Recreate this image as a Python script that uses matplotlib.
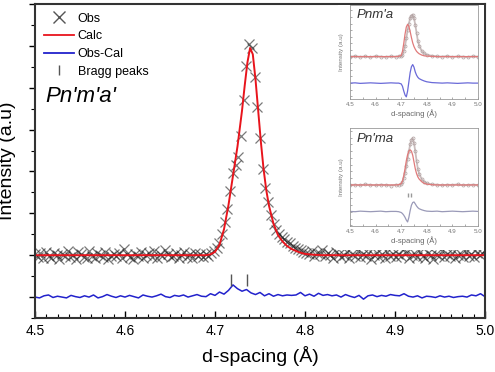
import numpy as np
import matplotlib
matplotlib.use("Agg")
import matplotlib.pyplot as plt
from matplotlib.lines import Line2D
from matplotlib.patches import Rectangle
from matplotlib.ticker import MultipleLocator, AutoMinorLocator, NullFormatter

plt.rcParams['font.family'] = ['Liberation Sans', 'DejaVu Sans']

# ---- main pattern (Pn'm'a') ----
# observed points, measured on an even d-spacing grid 4.5 .. 5.0
obs_base_left = [1.02, 0.96, 1.05, 0.93, 1.08, 0.99, 0.94, 1.06, 1.01, 0.92, 1.04, 0.97, 1.09, 0.95, 1.00, 0.91, 1.07, 1.03, 0.96, 0.94,
                 1.10, 0.98, 0.93, 1.05, 1.01, 0.95, 1.08, 0.92, 0.99, 1.04, 0.97, 1.06, 0.94, 1.15, 1.02, 0.95, 0.91, 1.03, 0.98, 1.07,
                 0.93, 1.00, 1.05, 0.96, 1.09, 0.94, 1.02, 0.97, 1.12, 1.04, 0.95, 0.99, 1.06, 0.93, 1.01, 1.08, 0.96, 1.03, 0.94, 1.05,
                 0.98, 1.02, 0.95, 1.04, 0.99, 1.06]
obs_peak = [1.10, 1.18, 1.28, 1.50, 1.80, 2.10, 2.53, 2.97, 3.15, 3.35, 3.85, 4.70, 5.52, 6.05, 5.95, 5.25, 4.55, 3.80,
            3.05, 2.60, 2.28, 1.96, 1.75, 1.60, 1.50, 1.43, 1.38, 1.32, 1.28, 1.22, 1.18, 1.16, 1.12, 1.08, 1.05]
obs_base_right = [1.04, 1.09, 0.98, 1.06, 1.02, 1.12, 0.97, 1.05, 1.01, 0.94, 1.08, 1.03, 0.96, 1.00, 1.07, 0.93, 1.04, 0.98, 1.10, 0.95,
                  1.02, 0.97, 1.06, 0.92, 1.01, 1.05, 0.96, 1.03, 0.94, 1.08, 0.99, 1.02, 0.95, 1.04, 0.97, 1.15, 1.06, 0.93, 1.00, 1.03,
                  0.96, 1.07, 0.98, 0.94, 1.05, 1.01, 0.92, 1.04, 0.97, 1.09, 0.95, 1.02, 0.99, 1.06, 0.93, 1.01, 1.04, 0.96, 1.08, 0.98,
                  1.03, 0.95, 1.06, 1.00, 1.05, 1.12]
obs_i = obs_base_left + obs_peak + obs_base_right
obs_d = np.linspace(4.5, 5.0, len(obs_i))

calc_d = [4.500, 4.690, 4.695, 4.700, 4.705, 4.710, 4.715, 4.720, 4.725, 4.730, 4.733, 4.736, 4.739, 4.742,
          4.745, 4.748, 4.751, 4.754, 4.757, 4.760, 4.765, 4.770, 4.775, 4.780, 4.785, 4.790, 4.795, 4.800,
          4.810, 4.820, 5.000]
calc_i = [1.00, 1.00, 1.02, 1.08, 1.25, 1.62, 2.20, 2.90, 3.60, 4.45, 5.05, 5.60, 5.95, 5.80,
          5.20, 4.45, 3.70, 3.05, 2.55, 2.18, 1.75, 1.48, 1.33, 1.22, 1.15, 1.10, 1.06, 1.03,
          1.01, 1.00, 1.00]

diff_i = [0.00, -0.02, 0.03, 0.05, -0.01, 0.02, 0.00, -0.02, 0.04, 0.01, -0.01, 0.03, 0.00, 0.05, -0.02, 0.01, 0.06, 0.02, -0.01, 0.03,
          0.00, 0.04, 0.01, -0.02, 0.05, 0.02, 0.00, 0.03, 0.07, 0.01, -0.01, 0.04, 0.02, 0.05, 0.00, 0.03, 0.06, 0.02, 0.01,
          0.08, 0.04, 0.12, 0.07, 0.16, 0.29, 0.20, 0.14, 0.18, 0.10, 0.06, 0.11, 0.03, 0.08, 0.02, 0.06, 0.03,
          0.05, 0.04, 0.05, 0.11, 0.03, 0.07, 0.02, 0.09, 0.04, 0.06, 0.03, 0.05, 0.00, 0.06, 0.02, -0.01, 0.04, -0.05, 0.03, 0.05,
          0.01, 0.04, 0.02, 0.06, 0.04, 0.03, 0.08, 0.02, 0.00, 0.03, -0.02, 0.02, 0.01, -0.01, 0.03, 0.00, 0.02, -0.01, 0.01, 0.02,
          0.00, 0.05, 0.03, 0.08, 0.01]
diff_d = np.linspace(4.5, 5.0, len(diff_i))

bragg_d = [4.718, 4.736]
bragg_y = [0.40, 0.40]

# ---- inset patterns ----
ins_d = [4.50, 4.52, 4.54, 4.56, 4.58, 4.60, 4.62, 4.64, 4.66, 4.68, 4.69, 4.70, 4.705, 4.71, 4.715, 4.72,
         4.725, 4.73, 4.735, 4.74, 4.745, 4.75, 4.755, 4.76, 4.765, 4.77, 4.78, 4.79, 4.80, 4.82, 4.84,
         4.86, 4.88, 4.90, 4.92, 4.94, 4.96, 4.98, 5.00]
# Pnm'a
pnma1_obs = [1.00, 1.02, 0.99, 1.01, 0.98, 1.02, 1.00, 0.99, 1.01, 1.00, 1.01, 1.02, 1.08, 1.20, 1.40, 1.70,
             2.00, 2.25, 2.45, 2.55, 2.59, 2.45, 2.20, 1.90, 1.60, 1.42, 1.22, 1.12, 1.07, 1.03, 1.01,
             1.00, 1.02, 0.99, 1.01, 1.00, 0.99, 1.01, 1.00]
pnma1_calc = [1.00, 1.00, 1.00, 1.00, 1.00, 1.00, 1.00, 1.00, 1.00, 1.00, 1.01, 1.05, 1.20, 1.50, 1.85, 2.12,
              2.22, 2.15, 1.95, 1.72, 1.52, 1.38, 1.28, 1.20, 1.15, 1.11, 1.06, 1.03, 1.02, 1.01, 1.00,
              1.00, 1.00, 1.00, 1.00, 1.00, 1.00, 1.00, 1.00]
pnma1_diff = [0.00, 0.01, -0.01, 0.00, 0.01, 0.00, -0.01, 0.00, 0.01, 0.00, 0.00, -0.03, -0.12, -0.30, -0.45, -0.52,
              -0.30, 0.05, 0.40, 0.62, 0.70, 0.60, 0.42, 0.30, 0.22, 0.17, 0.12, 0.08, 0.05, 0.02, 0.01,
              0.00, 0.01, 0.00, -0.01, 0.00, 0.01, 0.00, 0.00]
# Pn'ma
pnma2_obs = [1.00, 1.01, 0.99, 1.02, 1.00, 0.99, 1.01, 1.00, 0.98, 1.01, 1.00, 1.03, 1.10, 1.25, 1.45, 1.70,
             1.95, 2.25, 2.50, 2.68, 2.74, 2.55, 2.25, 1.90, 1.60, 1.42, 1.22, 1.12, 1.06, 1.02, 1.01,
             0.99, 1.01, 1.00, 1.02, 0.99, 1.00, 1.01, 1.00]
pnma2_calc = [1.00, 1.00, 1.00, 1.00, 1.00, 1.00, 1.00, 1.00, 1.00, 1.00, 1.01, 1.05, 1.15, 1.35, 1.60, 1.90,
              2.12, 2.25, 2.30, 2.25, 2.10, 1.85, 1.60, 1.42, 1.30, 1.22, 1.12, 1.06, 1.03, 1.01, 1.00,
              1.00, 1.00, 1.00, 1.00, 1.00, 1.00, 1.00, 1.00]
pnma2_diff = [0.02, 0.01, 0.03, 0.02, 0.01, 0.02, 0.03, 0.01, 0.02, 0.02, 0.01, -0.02, -0.06, -0.12, -0.20, -0.30,
              -0.37, -0.20, 0.05, 0.25, 0.35, 0.37, 0.30, 0.22, 0.16, 0.12, 0.08, 0.05, 0.03, 0.02, 0.03,
              0.01, 0.02, 0.03, 0.02, 0.01, 0.02, 0.03, 0.02]
pnma2_bragg_d = [4.725, 4.737]
pnma2_bragg_y = [0.63, 0.63]

fig = plt.figure(figsize=(4.95, 3.72), dpi=100)
ax = fig.add_axes([35 / 495, 54 / 372, 450 / 495, 314 / 372])

ax.plot(obs_d, obs_i, linestyle='none', marker='x', color='#202020', alpha=0.6,
        markersize=7, markeredgewidth=0.9, label='Obs')
ax.plot(calc_d, calc_i, color='#e8141c', lw=1.4, label='Calc')
ax.plot(diff_d, diff_i, color='#2222cc', lw=1.1, label='Obs-Cal')
ax.plot(bragg_d, bragg_y, linestyle='none', marker='|', color='#555555',
        markersize=8, markeredgewidth=1.0, label='Bragg peaks')

ax.set_xlim(4.5, 5.0)
ax.set_ylim(-0.5, 7.0)
ax.xaxis.set_major_locator(MultipleLocator(0.1))
ax.xaxis.set_minor_locator(AutoMinorLocator(8))
ax.yaxis.set_major_locator(MultipleLocator(1))
ax.yaxis.set_minor_locator(MultipleLocator(0.5))
ax.yaxis.set_major_formatter(NullFormatter())
ax.tick_params(axis='x', which='major', direction='in', length=5, width=1, labelsize=10, pad=4)
ax.tick_params(axis='x', which='minor', direction='in', length=3, width=0.8)
ax.tick_params(axis='y', which='major', direction='out', length=4, width=1)
ax.tick_params(axis='y', which='minor', direction='out', length=3, width=0.8)
for s in ax.spines.values():
    s.set_linewidth(1.5)
    s.set_color('#333333')
ax.set_xlabel('d-spacing (Å)', fontsize=14, labelpad=6)
ax.set_ylabel('Intensity (a.u)', fontsize=14, labelpad=6)

handles = [
    Line2D([], [], linestyle='none', marker='x', color='#555555', markersize=8, markeredgewidth=1.0),
    Line2D([], [], color='#e8141c', lw=1.3),
    Line2D([], [], color='#2222cc', lw=1.3),
    Line2D([], [], linestyle='none', marker='|', color='#555555', markersize=7),
]
ax.legend(handles, ['Obs', 'Calc', 'Obs-Cal', 'Bragg peaks'], loc='upper left',
          frameon=False, fontsize=9, handlelength=2.4, labelspacing=0.45,
          handletextpad=0.3, borderaxespad=0.3, bbox_to_anchor=(0.0, 1.0))
ax.text(0.022, 0.705, "Pn'm'a'", transform=ax.transAxes, fontsize=16, style='italic', va='center')

# white panel holding the two insets
fig.add_artist(Rectangle((338 / 495, (372 - 250) / 372), 146 / 495, 245 / 372,
                         transform=fig.transFigure, facecolor='white', edgecolor='none', zorder=1))


def inset(rect, name, obs, calc, diff, ylim, diff_color, bragg=None):
    a = fig.add_axes(rect)
    a.set_zorder(2)
    a.plot(ins_d, obs, color='#a08888', lw=1.3, alpha=0.55)
    a.plot(ins_d, obs, linestyle='none', marker='o', markersize=2.2, markerfacecolor='none',
           markeredgecolor='#b0a0a0', markeredgewidth=0.5)
    a.plot(ins_d, calc, color='#e07a7a', lw=0.9)
    a.plot(ins_d, diff, color=diff_color, lw=0.9)
    if bragg is not None:
        a.plot(bragg[0], bragg[1], linestyle='none', marker='|', color='#999999', markersize=3)
    a.set_xlim(4.5, 5.0)
    a.set_ylim(*ylim)
    a.xaxis.set_major_locator(MultipleLocator(0.1))
    a.xaxis.set_minor_locator(AutoMinorLocator(2))
    a.yaxis.set_major_locator(MultipleLocator(0.5))
    a.yaxis.set_minor_locator(MultipleLocator(0.25))
    a.yaxis.set_major_formatter(NullFormatter())
    a.tick_params(which='both', direction='in', length=1.5, width=0.5, colors='#888888',
                  labelsize=4.5, labelcolor='#777777', pad=2)
    for s in a.spines.values():
        s.set_linewidth(0.6)
        s.set_color('#999999')
    a.set_xlabel('d-spacing (Å)', fontsize=5.5, color='#666666', labelpad=2)
    a.set_ylabel('Intensity (a.u)', fontsize=4.5, color='#777777', labelpad=2)
    a.text(0.05, 0.86, name, transform=a.transAxes, fontsize=9.5, style='italic', color='#333333')
    return a


inset([350 / 495, (372 - 99) / 372, 128 / 495, 94 / 372], "Pnm'a",
      pnma1_obs, pnma1_calc, pnma1_diff, (-0.6, 2.95), '#6a6ad8')
inset([350 / 495, (372 - 226) / 372, 128 / 495, 98 / 372], "Pn'ma",
      pnma2_obs, pnma2_calc, pnma2_diff, (-0.52, 3.11), '#9a9ab8',
      bragg=(pnma2_bragg_d, pnma2_bragg_y))

fig.savefig('out.png', dpi=100)
